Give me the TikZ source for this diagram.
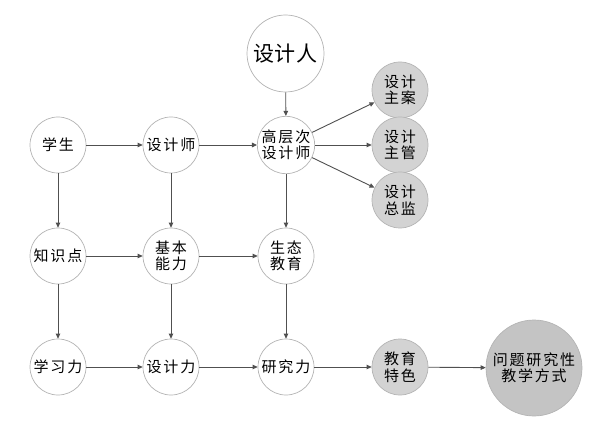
\documentclass[tikz,border=0pt]{standalone}
\usepackage{fontspec}
\usetikzlibrary{arrows.meta}
\newfontfamily\cjk[LetterSpace=12]{Noto Sans CJK SC}
\newfontfamily\cjkbig[LetterSpace=4]{Noto Sans CJK SC}
\definecolor{edgegray}{HTML}{B4B4B4}
\definecolor{linegray}{HTML}{505050}
\definecolor{fillgray}{HTML}{D3D3D3}
\definecolor{darkfill}{HTML}{C4C4C4}
\tikzset{
  circ/.style={circle, draw=edgegray, line width=0.7pt, fill=white, minimum size=56pt, inner sep=0pt, align=center, font=\cjk\fontsize{15}{16.5}\selectfont},
  grayc/.style={circ, fill=fillgray},
  flow/.style={draw=linegray, line width=0.9pt, -{Triangle[length=5pt,width=4.5pt]}},
}
\begin{document}
\begin{tikzpicture}[x=1pt, y=-1pt]
    \useasboundingbox (0,0) rectangle (609,438);
    % top
    \node[circ, minimum size=77pt, font=\cjkbig\fontsize{21}{23}\selectfont] (person) at (285.5,53.5) {设计人};

    % first row
    \node[circ] (student) at (58,145) {学生};
    \node[circ] (designer) at (171,145) {设计师};
    \node[circ] (senior) at (286,145) {高层次\\设计师};
    \node[grayc] (plan) at (400,90) {设计\\主案};
    \node[grayc] (manager) at (400,145) {设计\\主管};
    \node[grayc] (director) at (400,200) {设计\\总监};

    % second row
    \node[circ] (knowledge) at (58,256) {知识点};
    \node[circ] (ability) at (171,256) {基本\\能力};
    \node[circ] (eco) at (286,256) {生态\\教育};

    % third row
    \node[circ] (learning) at (58,367) {学习力};
    \node[circ] (design) at (171,367) {设计力};
    \node[circ] (research) at (286,367) {研究力};
    \node[grayc] (feature) at (400,367) {教育\\特色};
    \node[circ, fill=darkfill, minimum size=96pt] (method) at (534,368) {问题研究性\\教学方式};

    % connectors
    \draw[flow] (person) -- (senior);
    \draw[flow] (student) -- (designer);
    \draw[flow] (designer) -- (senior);
    \draw[flow] (senior) -- (plan);
    \draw[flow] (senior) -- (manager);
    \draw[flow] (senior) -- (director);
    \draw[flow] (student) -- (knowledge);
    \draw[flow] (knowledge) -- (learning);
    \draw[flow] (designer) -- (ability);
    \draw[flow] (ability) -- (design);
    \draw[flow] (senior) -- (eco);
    \draw[flow] (eco) -- (research);
    \draw[flow] (knowledge) -- (ability);
    \draw[flow] (ability) -- (eco);
    \draw[flow] (learning) -- (design);
    \draw[flow] (design) -- (research);
    \draw[flow] (research) -- (feature);
    \draw[flow] (feature) -- (method);
\end{tikzpicture}
\end{document}
